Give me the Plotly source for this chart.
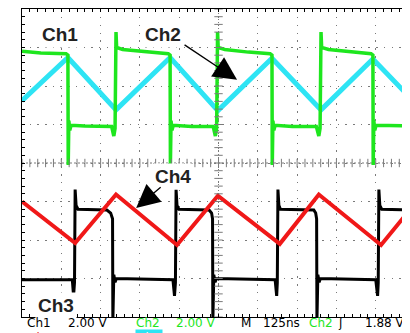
import numpy as np
import plotly.graph_objects as go

# time in ns (125 ns/div), levels in screen divisions (0 = screen centre)
ch1_t = [0, 60, 140, 146, 147, 149, 152, 156, 200, 285, 292, 296, 299, 301, 320,
         400, 465, 471, 472, 474, 477, 481, 540, 608, 615, 619, 622, 624, 645,
         720, 789, 795, 796, 798, 801, 805, 860, 936, 944, 948, 951, 953, 975,
         1050, 1110, 1116, 1117, 1119, 1122, 1126, 1234]
ch1_v = [2.90, 2.86, 2.84, 2.80, -0.05, 1.10, 0.85, 0.98, 0.96, 0.95, 0.70, 0.90, 3.40, 3.00, 2.95,
         2.88, 2.84, 2.80, -0.05, 1.10, 0.85, 0.98, 0.95, 0.95, 0.70, 0.90, 3.40, 3.00, 2.95,
         2.88, 2.84, 2.80, -0.05, 1.10, 0.85, 0.98, 0.95, 0.95, 0.70, 0.90, 3.40, 3.00, 2.95,
         2.88, 2.84, 2.80, -0.05, 1.10, 0.85, 0.98, 0.96]

ch2_t = [0, 146, 299, 471, 623, 795, 951, 1116, 1234]
ch2_v = [1.62, 2.74, 1.38, 2.74, 1.36, 2.72, 1.38, 2.70, 1.70]

ch3_t = [0, 160, 164, 167, 169, 172, 178, 270, 282, 288, 289, 292, 296, 300,
         480, 485, 488, 490, 493, 499, 595, 603, 606, 607, 610, 614, 618,
         805, 810, 812, 814, 817, 822, 928, 934, 937, 938, 941, 945, 949,
         1125, 1131, 1133, 1135, 1138, 1144, 1234]
ch3_v = [-3.03, -3.03, -3.45, -3.10, -0.69, -1.10, -1.20, -1.22, -1.30, -1.45, -4.10, -2.90, -3.10, -3.00,
         -3.03, -3.45, -3.10, -0.69, -1.10, -1.20, -1.22, -1.30, -1.45, -4.10, -2.90, -3.10, -3.00,
         -3.03, -3.45, -3.10, -0.69, -1.10, -1.20, -1.22, -1.30, -1.45, -4.10, -2.90, -3.10, -3.00,
         -3.03, -3.45, -3.10, -0.69, -1.10, -1.20, -1.22]

ch4_t = [0, 169, 299, 493, 623, 820, 944, 1142, 1234]
ch4_v = [-1.00, -2.08, -0.82, -2.13, -0.85, -2.10, -0.82, -2.13, -1.21]

footer_row1 = ["Ch1", "2.00 V", "Ch2", "2.00 V", "M", "125ns", "Ch2", "ʃ", "1.88 V"]
footer_row2 = ["Ch3", "200mA", "Ch4", "200mA"]

GREEN = "#1ee61e"
CYAN = "#2ee4f4"
RED = "#f01818"
GRID = "#7a7a7a"

# page body adds 8px offset, so figure is 8px smaller and margins shifted
PLOT_W, PLOT_H = 388, 308

fig = go.Figure()

fig.add_trace(go.Scatter(x=ch2_t, y=ch2_v, mode="lines", line=dict(color=CYAN, width=5)))
fig.add_trace(go.Scatter(x=ch1_t, y=ch1_v, mode="lines", line=dict(color=GREEN, width=3.5)))
fig.add_trace(go.Scatter(x=ch3_t, y=ch3_v, mode="lines", line=dict(color="black", width=3)))
fig.add_trace(go.Scatter(x=ch4_t, y=ch4_v, mode="lines", line=dict(color=RED, width=4)))

# graticule centre cross ticks
sub_x = np.arange(0, 1250, 25)
sub_y = np.arange(-4, 4.01, 0.2)
fig.add_shape(type="line", x0=0, x1=1250, y0=0, y1=0, line=dict(color=GRID, width=1, dash="2px,2px"), layer="below")
fig.add_shape(type="line", x0=625, x1=625, y0=-4, y1=4, line=dict(color=GRID, width=1, dash="1px,2px"), layer="below")
fig.add_trace(go.Scatter(x=sub_x, y=[0] * len(sub_x), mode="markers",
                         marker=dict(symbol="line-ns", size=6, line=dict(color=GRID, width=1))))
fig.add_trace(go.Scatter(x=[625] * len(sub_y), y=sub_y, mode="markers",
                         marker=dict(symbol="line-ew", size=6, line=dict(color=GRID, width=1))))

# channel labels
lab = dict(font=dict(family="Liberation Sans, Arial", size=19, color="#222"),
           bgcolor="white", showarrow=False, borderpad=2)
fig.add_annotation(x=121, y=3.35, text="<b>Ch1</b>", **lab)
fig.add_annotation(x=448, y=3.35, text="<b>Ch2</b>", **lab)
fig.add_annotation(x=480, y=-0.34, text="<b>Ch4</b>", **lab)
fig.add_annotation(x=108, y=-3.69, text="<b>Ch3</b>", **lab)

arr = dict(text="", showarrow=True, arrowhead=2, arrowsize=3.6, arrowwidth=1.3, arrowcolor="black",
           axref="pixel", ayref="pixel")
fig.add_annotation(x=684, y=2.16, ax=-54, ay=-36, **arr)
fig.add_annotation(x=363, y=-1.17, ax=26, ay=-22, **arr)

# status line
row1_x = [26, 67, 135, 175, 240, 262, 308, 337, 364]
row1_c = ["black", "black", GREEN, GREEN, "black", "black", GREEN, "black", "black"]
for txt, px, col in zip(footer_row1, row1_x, row1_c):
    fig.add_annotation(xref="paper", yref="paper", x=(px - 22) / PLOT_W, y=(316 - 322) / PLOT_H,
                       xanchor="left", yanchor="middle", text=txt, showarrow=False, borderpad=0,
                       font=dict(family="DejaVu Sans", size=12, color=col))
row2_x = [26, 67, 135, 175]
row2_c = [RED, RED, "white", CYAN]
for txt, px, col in zip(footer_row2, row2_x, row2_c):
    fig.add_annotation(xref="paper", yref="paper", x=(px - 22) / PLOT_W, y=(316 - 337) / PLOT_H,
                       xanchor="left", yanchor="middle", text=txt, showarrow=False,
                       bgcolor=CYAN if col == "white" else None,
                       font=dict(family="DejaVu Sans", size=12, color=col))

axis_common = dict(showticklabels=False, showline=True, linecolor="black", linewidth=1,
                   mirror="ticks", ticks="inside", ticklen=3, tickcolor="black",
                   showgrid=True, gridcolor=GRID, gridwidth=1, zeroline=False)
fig.update_xaxes(range=[0, 1234], dtick=125, tick0=0, griddash="1.5px,6.36px",
                 minor=dict(ticks="inside", dtick=25, ticklen=3, tickcolor="black", showgrid=False),
                 **axis_common)
fig.update_yaxes(range=[-4, 4], dtick=1, tick0=0, griddash="1.5px,6.2px",
                 minor=dict(ticks="inside", dtick=0.2, ticklen=3, tickcolor="black", showgrid=False),
                 **axis_common)

fig.update_layout(
    width=402, height=325,
    margin=dict(l=14, r=0, t=1, b=16),
    plot_bgcolor="white", paper_bgcolor="white",
    showlegend=False,
)
fig.write_html("out.html")
